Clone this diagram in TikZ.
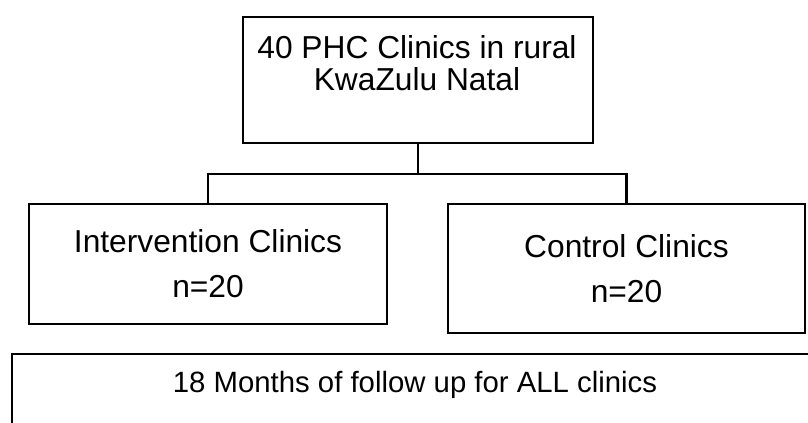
\documentclass[tikz,border=0pt]{standalone}
\usepackage{fontspec}
\setmainfont{Liberation Sans}
\usepackage{tikz}

\begin{document}
\begin{tikzpicture}[x=0.75pt, y=-0.75pt, line width=1.8pt,
  box/.style = {draw, rectangle, inner sep=0pt, align=center},
  label/.style = {inner sep=0pt, align=center}]
\useasboundingbox (0,0) rectangle (808,423);
\clip (0,0) rectangle (808,423);
\fontsize{23.8}{24}\selectfont
% top box
\node[box, minimum width=262.5pt, minimum height=94.5pt] (clinics) at (418,80) {};
\node[label, anchor=north] (clinicsText) at (417,34) {40 PHC Clinics in rural\\KwaZulu Natal};
% the two arms
\node[box, minimum width=268.5pt, minimum height=90pt] (intervention) at (208,264)
  {Intervention Clinics\\[9.75pt]n=20};
\node[box, minimum width=267.75pt, minimum height=96.75pt] (control) at (626.5,268.5)
  {Control Clinics\\[9.75pt]n=20};
% follow up
\node[box, anchor=north west, minimum width=606pt, minimum height=80pt] (followup) at (11,353) {};
\node[label, anchor=north, font=\fontsize{22}{24}\selectfont] (followupText) at (415,370)
  {18 Months of follow up for ALL clinics};
\coordinate (split) at ([yshift=-22.5pt]clinics.south);
\draw (clinics) -- (split);
\draw (intervention) |- (split) -| (control);
\end{tikzpicture}
\end{document}
